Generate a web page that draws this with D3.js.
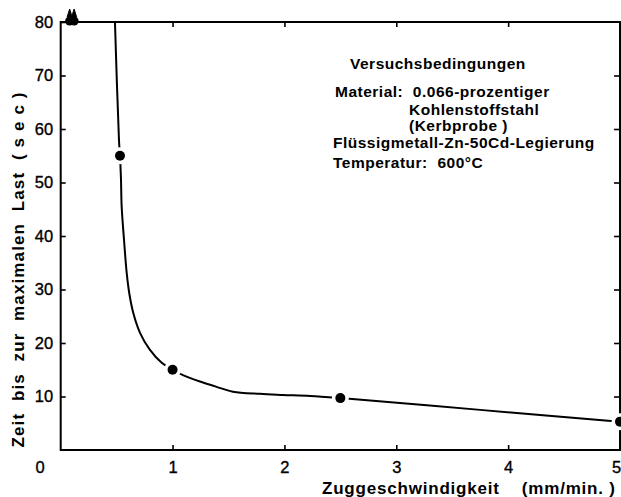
<!DOCTYPE html>
<html><head><meta charset="utf-8">
<script src="https://cdn.jsdelivr.net/npm/d3@7"></script>
<style>
html,body{margin:0;padding:0;background:#fff;}
svg{display:block;font-family:"Liberation Sans",Arial,sans-serif;}
</style></head>
<body><svg id="c" width="621" height="497"></svg>
<script>
// ---- data ----
const xTicks = [1, 2, 3, 4, 5];
const yTicks = [10, 20, 30, 40, 50, 60, 70, 80];
const originLabel = "0";
const pointX = [0.53, 1.0, 2.5, 5.0];
const pointY = [55, 15, 9.7, 5.3];
const beyondX = [0.08, 0.12];   // results beyond 80 s (arrow marks)
const beyondY = [80, 80];
const curveX = [0.485, 0.521, 0.53, 0.539, 0.545, 0.566, 0.59, 0.613, 0.649, 0.709, 0.798, 0.903, 1.0, 1.093, 1.245, 1.394, 1.54, 1.78, 1.986, 2.23, 2.5, 3.75, 5.0];
const curveY = [80, 57.9, 55, 50.5, 45.5, 39.3, 33.1, 29.3, 25.6, 21.9, 18.7, 16.3, 15.0, 14.0, 12.8, 11.8, 10.9, 10.5, 10.3, 10.1, 9.7, 7.5, 5.3];
const yTitle = "Zeit  bis  zur  maximalen  Last  ( s e c )";
const xTitle = "Zuggeschwindigkeit    (mm/min. )";
const legendText = [
  "Versuchsbedingungen",
  "Material:  0.066-prozentiger",
  "Kohlenstoffstahl",
  "(Kerbprobe )",
  "Flüssigmetall-Zn-50Cd-Legierung",
  "Temperatur:  600°C"
];

// ---- layout ----
const legendPos = [[350, 69], [335, 97], [409, 115], [409, 131], [333, 148], [333, 168]];

const svg = d3.select("#c");
const x = d3.scaleLinear().domain([0, 5]).range([60.7, 620]);
const y = d3.scaleLinear().domain([0, 80]).range([450, 22]);

// frame
svg.append("rect").attr("x", x(0)).attr("y", y(80)).attr("width", x(5) - x(0)).attr("height", y(0) - y(80))
  .attr("fill", "none").attr("stroke", "#000").attr("stroke-width", 2);

const fontAxis = g => g.selectAll("text").attr("font-size", 16.5).attr("fill", "#000")
  .attr("stroke", "#000").attr("stroke-width", 0.35)
  .attr("font-family", "Liberation Sans, Arial, sans-serif");

const gx = svg.append("g").attr("transform", `translate(0,${y(0)})`)
  .call(d3.axisBottom(x).tickValues(xTicks).tickFormat(d3.format("d")).tickSizeInner(-5).tickSizeOuter(0).tickPadding(11));
gx.select(".domain").remove();
gx.selectAll("line").attr("stroke-width", 1.6);
fontAxis(gx);
gx.selectAll(".tick").filter(d => d === 5).select("text").attr("dx", -4);

const gy = svg.append("g").attr("transform", `translate(${x(0)},0)`)
  .call(d3.axisLeft(y).tickValues(yTicks).tickFormat(d3.format("d")).tickSizeInner(-5).tickSizeOuter(0).tickPadding(7.5));
gy.select(".domain").remove();
gy.selectAll("line").attr("stroke-width", 1.6);
fontAxis(gy);

const gt = svg.append("g").attr("transform", `translate(0,${y(80)})`)
  .call(d3.axisTop(x).tickValues(xTicks.slice(0, -1)).tickFormat("").tickSizeInner(-5).tickSizeOuter(0));
gt.select(".domain").remove();
gt.selectAll("line").attr("stroke-width", 1.6);

const gr = svg.append("g").attr("transform", `translate(${x(5) - 1},0)`)
  .call(d3.axisRight(y).tickValues(yTicks.slice(0, -1)).tickFormat("").tickSizeInner(-5).tickSizeOuter(0));
gr.select(".domain").remove();
gr.selectAll("line").attr("stroke-width", 1.6);

svg.append("text").attr("x", 40).attr("y", 473).attr("text-anchor", "middle")
  .attr("font-size", 16.5).attr("stroke", "#000").attr("stroke-width", 0.35).text(originLabel);

// curve
const curveData = curveX.map((v, i) => [v, curveY[i]]);
svg.append("path").datum(curveData)
  .attr("d", d3.line().x(d => x(d[0])).y(d => y(d[1])).curve(d3.curveCatmullRom.alpha(0.5)))
  .attr("fill", "none").attr("stroke", "#000").attr("stroke-width", 2);

// halos and points
const pts = pointX.map((v, i) => [v, pointY[i]]);
svg.append("g").selectAll("circle").data(pts).join("circle")
  .attr("cx", d => x(d[0])).attr("cy", d => y(d[1])).attr("r", 8.5).attr("fill", "#fff");
svg.append("g").selectAll("circle").data(pts).join("circle")
  .attr("cx", d => x(d[0])).attr("cy", d => y(d[1])).attr("r", 5).attr("fill", "#000");

// beyond-range marks
const bey = beyondX.map((v, i) => [v, beyondY[i]]);
const gb = svg.append("g");
gb.selectAll("circle").data(bey).join("circle")
  .attr("cx", d => x(d[0])).attr("cy", d => y(d[1]) - 1).attr("r", 4.5).attr("fill", "#000");
gb.selectAll("path").data(bey).join("path")
  .attr("d", d => { const cx = x(d[0]), cy = y(d[1]); return `M${cx - 2.5},${cy - 5}L${cx},${cy - 13}L${cx + 2.5},${cy - 5}Z`; })
  .attr("fill", "#000").attr("stroke", "#000").attr("stroke-width", 1);

// titles
svg.append("text").attr("transform", `translate(24,270) rotate(-90)`)
  .attr("text-anchor", "middle").attr("font-size", 17).attr("font-weight", "bold")
  .attr("textLength", 355).attr("lengthAdjust", "spacing")
  .style("white-space", "pre").text(yTitle);
svg.append("text").attr("x", 322).attr("y", 494)
  .attr("font-size", 17).attr("font-weight", "bold")
  .attr("textLength", 293).attr("lengthAdjust", "spacing")
  .style("white-space", "pre").text(xTitle);

// legend
svg.append("g").selectAll("text").data(legendText).join("text")
  .attr("x", (d, i) => legendPos[i][0]).attr("y", (d, i) => legendPos[i][1])
  .attr("font-size", 15.5).attr("font-weight", "bold").attr("letter-spacing", 0.5)
  .style("white-space", "pre").text(d => d);
</script></body></html>
